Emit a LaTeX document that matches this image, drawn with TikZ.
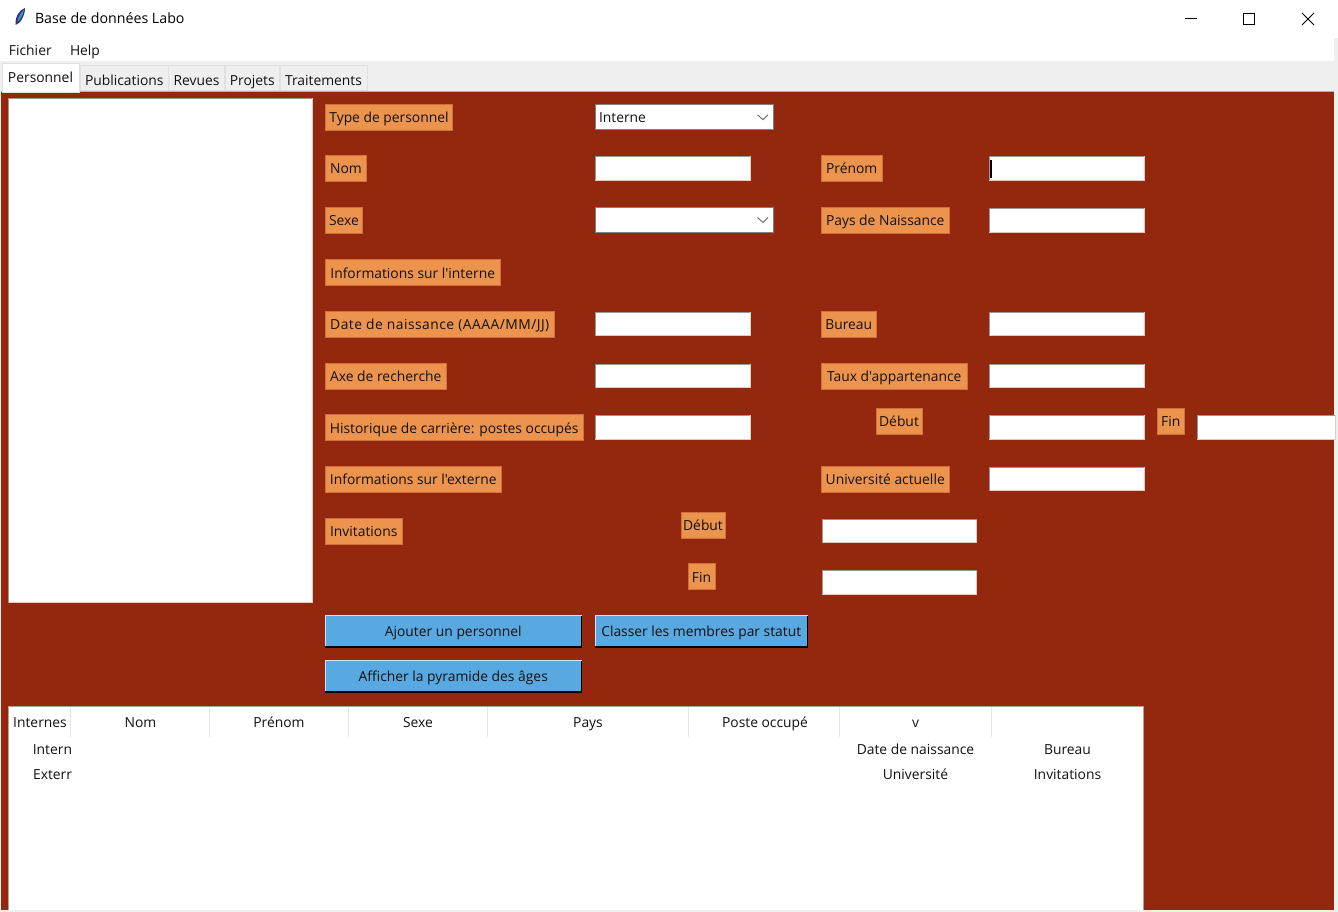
\documentclass[tikz,border=0pt]{standalone}
\usepackage{fontspec}
\setmainfont{Open Sans}[Ligatures=TeXOff]
\definecolor{panel}{HTML}{93280F}
\definecolor{lab}{HTML}{EC944E}
\definecolor{labedge}{HTML}{D0703E}
\definecolor{btn}{HTML}{58A9E2}
\definecolor{band}{HTML}{EFEFEF}
\definecolor{tabedge}{HTML}{E0E0E0}
\definecolor{ink}{HTML}{14100E}
\definecolor{sep}{HTML}{E6E6E6}
\tikzset{
  x=1pt,y=-1pt,
  ui/.style={font=\fontsize{13.85}{15}\selectfont,text=ink,inner sep=0pt,outer sep=0pt,text height=14pt,text depth=3pt},
  labelbox/.style={ui,anchor=north west,fill=lab,draw=labedge,line width=0.6pt},
  entrybox/.style={ui,anchor=north west,fill=white,draw=white!75!panel,line width=0.8pt},
  btnbox/.style={ui,anchor=north west,fill=btn},
  tabbox/.style={ui,anchor=north west,fill=band,draw=tabedge,line width=1pt,text height=18pt,text depth=3pt},
  plain/.style={ui,anchor=center},
}
\newcommand{\lbl}[6]{\node[labelbox,minimum width=#4-#2,minimum height=#5-#3] (#1) at (#2,#3) {#6};}
\newcommand{\ent}[5]{\node[entrybox,minimum width=#4-#2,minimum height=#5-#3] (#1) at (#2,#3) {};
  \draw[black!40,line width=0.8pt] (#2,#5) -- (#2,#3) -- (#4,#3);}
\newcommand{\combo}[6]{\node[entrybox,draw=black!50,line width=1pt,minimum width=#4-#2,minimum height=#5-#3] (#1) at (#2,#3) {};
  \node[plain,anchor=west] at ([xshift=3.5pt]#1.west) {#6};
  \draw[black!60,line width=0.9pt] ([xshift=-16pt,yshift=2.5pt]#1.east) -- ([xshift=-10.5pt,yshift=-2.5pt]#1.east) -- ([xshift=-5.5pt,yshift=2.5pt]#1.east);}
\newcommand{\btnn}[6]{\node[btnbox,minimum width=#4-#2,minimum height=#5-#3] (#1) at (#2,#3) {#6};
  \draw[white!70!btn,line width=0.9pt] (#2,#5) -- (#2,#3) -- (#4,#3);
  \draw[black,line width=1.1pt] (#2,#5) -- (#4,#5) -- (#4,#3);}
\newcommand{\tabb}[6]{\node[tabbox,minimum width=#4-#2,minimum height=#5-#3] (#1) at (#2,#3) {#6};}
\begin{document}
\begin{tikzpicture}
\useasboundingbox (0,0) rectangle (1338,912);
\fill[white] (0,0) rectangle (1338,912);
% title bar
\node[plain,anchor=west,text=black,font=\fontsize{14.2}{16}\selectfont] (title) at (35,18.5) {Base de données Labo};
\fill[black!70!blue!80!white] (25,8) .. controls (19,10) and (15,17) .. (15.5,25) .. controls (20,24) and (25,16) .. (25,8) -- cycle;
\fill[blue!35!cyan!60!gray] (24,10) .. controls (21,12) and (18,17) .. (17.5,22) .. controls (20,20) and (23,15) .. (24,10) -- cycle;
\draw[black,line width=0.9pt] (1185,18.5) -- (1197,18.5);
\draw[black,line width=0.9pt] (1243.5,13.5) rectangle (1254.5,24.5);
\draw[black,line width=0.9pt] (1302,13) -- (1314,25) (1314,13) -- (1302,25);
% menu
\node[plain,anchor=west] (fichier) at (9,50) {Fichier};
\node[plain,anchor=west] (help) at (70,50) {Help};
% tab band and panel
\fill[band] (0,61) rectangle (1338,91);
\fill[band] (1334,38) rectangle (1338,912);
\fill[band] (0,910) rectangle (1338,912);
\fill[band] (0,91) rectangle (1,912);
\fill[panel] (1,91.5) rectangle (1334,910);
\draw[black!30,line width=0.7pt] (1,91.2) -- (1334,91.2);
% tabs
\tabb{tabpub}{80.5}{65.5}{168}{91}{Publications}
\tabb{tabrev}{168.5}{65.5}{224.5}{91}{Revues}
\tabb{tabpro}{225}{65.5}{279.5}{91}{Projets}
\tabb{tabtra}{280}{65.5}{367}{91}{Traitements}
\node[ui,anchor=north west,fill=white,draw=tabedge,line width=0.8pt,text height=13pt,text depth=3pt,minimum width=77,minimum height=28.5] (tabper) at (2,63.5) {Personnel};
% listbox
\ent{liste}{8.5}{98.5}{312}{602.5}
% labels column 1
\lbl{ltype}{325.5}{104.5}{452.5}{130}{Type de personnel}
\lbl{lnom}{325.5}{155.5}{366.5}{181.5}{Nom}
\lbl{lsexe}{325.5}{207}{362.5}{233}{Sexe}
\lbl{linfoi}{325.5}{259.5}{500}{285.5}{Informations sur l'interne}
\lbl{ldate}{325.5}{311}{554}{337}{\addfontfeature{LetterSpace=3.4}Date de naissance (AAAA/MM/JJ)}
\lbl{laxe}{325.5}{363}{446}{389}{Axe de recherche}
\lbl{lhist}{325.5}{414.5}{583}{440.5}{Historique de carrière: postes occupés}
\lbl{linfoe}{325.5}{466}{501}{492}{Informations sur l'externe}
\lbl{linv}{325.5}{518}{402}{544.5}{Invitations}
% labels others
\lbl{ldeb}{681}{512}{725}{538}{Début}
\lbl{lfin}{688}{563.5}{715}{589.5}{Fin}
\lbl{lpre}{821.5}{155.5}{882}{181.5}{Prénom}
\lbl{lpays}{821.5}{207}{949}{233}{Pays de Naissance}
\lbl{lbur}{821.5}{311}{876}{337}{Bureau}
\lbl{ltaux}{821.5}{363}{967}{389}{Taux d'appartenance}
\lbl{ldeb2}{876}{408}{922}{434}{Début}
\lbl{lfin2}{1157}{408}{1184.5}{434}{Fin}
\lbl{luni}{821.5}{466}{949}{492}{Université actuelle}
% comboboxes
\combo{ctype}{595.5}{104.5}{773.5}{130}{Interne}
\combo{csexe}{595.5}{207.5}{773.5}{232.5}{}
% entries
\ent{enom}{595.5}{156.5}{750}{180}
\ent{epre}{989.5}{156.5}{1144}{180}
\draw[black,line width=1.5pt] (991.2,160) -- (991.2,178);
\ent{epays}{989.5}{208.5}{1144}{232}
\ent{edate}{595.5}{312}{750}{335.5}
\ent{ebur}{989.5}{312}{1144}{335.5}
\ent{eaxe}{595.5}{364}{750}{387.5}
\ent{etaux}{989.5}{364}{1144}{387.5}
\ent{ehist}{595.5}{415.5}{750}{439}
\ent{edeb2}{989.5}{415.5}{1144}{439}
\ent{efin2}{1197}{415.5}{1335}{439}
\ent{euni}{989.5}{467}{1144}{490.5}
\ent{edeb}{822}{519}{976.5}{542.5}
\ent{efin}{822}{570.5}{976.5}{594}
% buttons
\btnn{bajout}{325}{615.5}{581.5}{647}{Ajouter un personnel}
\btnn{bclasse}{595}{615.5}{807.5}{647}{Classer les membres par statut}
\btnn{bpyr}{325}{660.5}{581.5}{692}{Afficher la pyramide des âges}
% tree
\node[anchor=north west,fill=white,inner sep=0pt,minimum width=1136,minimum height=203.5] (tree) at (8,706.5) {};
\draw[black!35,line width=0.8pt] (8,910) -- (8,706.5) -- (1143.8,706.5) -- (1143.8,910);
\draw[sep,line width=0.9pt] (70.5,707) -- (70.5,737) (209.5,707) -- (209.5,737) (348.5,707) -- (348.5,737) (487.5,707) -- (487.5,737) (688.5,707) -- (688.5,737) (839.5,707) -- (839.5,737) (991.5,707) -- (991.5,737);
\node[plain] (hint) at (40,721.5) {Internes};
\node[plain] (hnom) at (140.5,721.5) {Nom};
\node[plain] (hpre) at (279,721.5) {Prénom};
\node[plain] (hsex) at (418,721.5) {Sexe};
\node[plain] (hpay) at (588,721.5) {Pays};
\node[plain] (hpos) at (765,721.5) {Poste occupé};
\node[plain] (hv) at (915.5,721.5) {v};
\node[plain,anchor=east] (rint) at (72,749) {Intern};
\node[plain,anchor=east] (rext) at (72,774) {Exterr};
\node[plain] (rdat) at (915.5,749) {Date de naissance};
\node[plain] (rbur) at (1067.5,749) {Bureau};
\node[plain] (runi) at (915.5,774) {Université};
\node[plain] (rinv) at (1067.5,774) {Invitations};
\end{tikzpicture}
\end{document}
